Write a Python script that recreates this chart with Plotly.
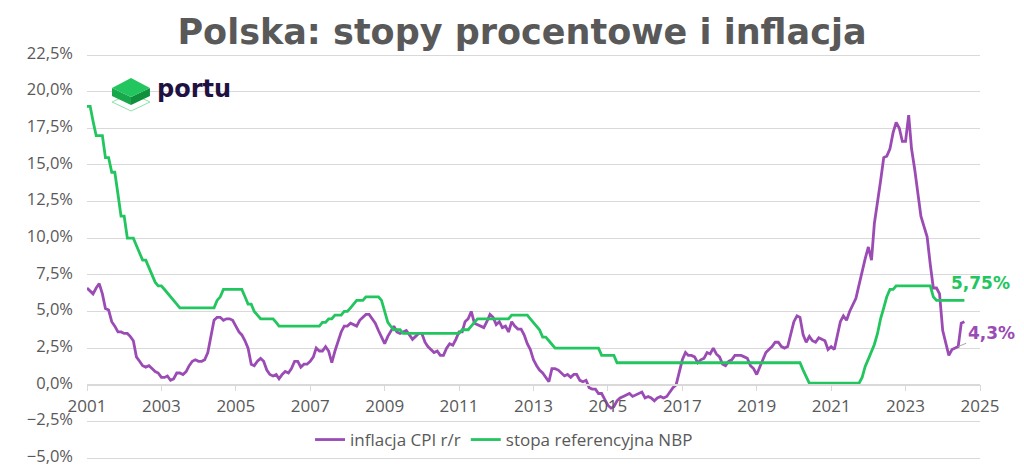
import pandas as pd
import plotly.graph_objects as go

# CPI r/r, monthly, Jan 2001 - Aug 2024
cpi = [
    6.6, 6.4, 6.2, 6.6, 6.9, 6.2, 5.2, 5.1, 4.3, 4.0, 3.6, 3.6,   # 2001
    3.5, 3.5, 3.3, 3.0, 1.9, 1.6, 1.3, 1.2, 1.3, 1.1, 0.9, 0.8,   # 2002
    0.5, 0.5, 0.6, 0.3, 0.4, 0.8, 0.8, 0.7, 0.9, 1.3, 1.6, 1.7,   # 2003
    1.6, 1.6, 1.7, 2.2, 3.4, 4.4, 4.6, 4.6, 4.4, 4.5, 4.5, 4.4,   # 2004
    4.0, 3.6, 3.4, 3.0, 2.5, 1.4, 1.3, 1.6, 1.8, 1.6, 1.0, 0.7,   # 2005
    0.6, 0.7, 0.4, 0.7, 0.9, 0.8, 1.1, 1.6, 1.6, 1.2, 1.4, 1.4,   # 2006
    1.6, 1.9, 2.5, 2.3, 2.3, 2.6, 2.3, 1.5, 2.3, 3.0, 3.6, 4.0,   # 2007
    4.0, 4.2, 4.1, 4.0, 4.4, 4.6, 4.8, 4.8, 4.5, 4.2, 3.7, 3.3,   # 2008
    2.8, 3.3, 3.6, 4.0, 3.6, 3.5, 3.6, 3.7, 3.4, 3.1, 3.3, 3.5,   # 2009
    3.5, 2.9, 2.6, 2.4, 2.2, 2.3, 2.0, 2.0, 2.5, 2.8, 2.7, 3.1,   # 2010
    3.6, 3.6, 4.3, 4.5, 5.0, 4.2, 4.1, 4.0, 3.9, 4.3, 4.8, 4.6,   # 2011
    4.1, 4.3, 3.9, 4.0, 3.6, 4.3, 4.0, 3.8, 3.8, 3.4, 2.8, 2.4,   # 2012
    1.7, 1.3, 1.0, 0.8, 0.5, 0.2, 1.1, 1.1, 1.0, 0.8, 0.6, 0.7,   # 2013
    0.5, 0.7, 0.7, 0.3, 0.2, 0.3, -0.2, -0.3, -0.3, -0.6, -0.6, -1.0,   # 2014
    -1.4, -1.6, -1.5, -1.1, -0.9, -0.8, -0.7, -0.6, -0.8, -0.7, -0.6, -0.5,   # 2015
    -0.9, -0.8, -0.9, -1.1, -0.9, -0.8, -0.9, -0.8, -0.5, -0.2, 0.0, 0.8,   # 2016
    1.7, 2.2, 2.0, 2.0, 1.9, 1.5, 1.7, 1.8, 2.2, 2.1, 2.5, 2.1,   # 2017
    1.9, 1.4, 1.3, 1.6, 1.7, 2.0, 2.0, 2.0, 1.9, 1.8, 1.3, 1.1,   # 2018
    0.7, 1.2, 1.7, 2.2, 2.4, 2.6, 2.9, 2.9, 2.6, 2.5, 2.6, 3.4,   # 2019
    4.3, 4.7, 4.6, 3.4, 2.9, 3.3, 3.0, 2.9, 3.2, 3.1, 3.0, 2.4,   # 2020
    2.6, 2.4, 3.2, 4.3, 4.7, 4.4, 5.0, 5.5, 5.9, 6.8, 7.8, 8.6,   # 2021
    9.4, 8.5, 11.0, 12.4, 13.9, 15.5, 15.6, 16.1, 17.2, 17.9, 17.5, 16.6,   # 2022
    16.6, 18.4, 16.1, 14.7, 13.0, 11.5, 10.8, 10.1, 8.2, 6.6, 6.6, 6.2,   # 2023
    3.7, 2.8, 2.0, 2.4, 2.5, 2.6, 4.2, 4.3,   # 2024
]

# stopa referencyjna NBP, monthly, Jan 2001 - Aug 2024
nbp = [
    19, 19, 18, 17, 17, 17, 15.5, 15.5, 14.5, 14.5, 13, 11.5,   # 2001
    11.5, 10, 10, 10, 9.5, 9, 8.5, 8.5, 8, 7.5, 7, 6.75,   # 2002
    6.75, 6.5, 6.25, 6, 5.75, 5.5, 5.25, 5.25, 5.25, 5.25, 5.25, 5.25,   # 2003
    5.25, 5.25, 5.25, 5.25, 5.25, 5.25, 5.75, 6.0, 6.5, 6.5, 6.5, 6.5,   # 2004
    6.5, 6.5, 6.5, 6.0, 5.5, 5.5, 5.0, 4.75, 4.5, 4.5, 4.5, 4.5,   # 2005
    4.5, 4.25, 4, 4, 4, 4, 4, 4, 4, 4, 4, 4,   # 2006
    4, 4, 4, 4, 4.25, 4.25, 4.5, 4.5, 4.75, 4.75, 4.75, 5.0,   # 2007
    5.0, 5.25, 5.5, 5.75, 5.75, 5.75, 6, 6, 6, 6, 6, 5.75,   # 2008
    5.0, 4.25, 4.0, 3.75, 3.75, 3.75, 3.5, 3.5, 3.5, 3.5, 3.5, 3.5,   # 2009
    3.5, 3.5, 3.5, 3.5, 3.5, 3.5, 3.5, 3.5, 3.5, 3.5, 3.5, 3.5,   # 2010
    3.5, 3.75, 3.75, 3.75, 4.0, 4.25, 4.5, 4.5, 4.5, 4.5, 4.5, 4.5,   # 2011
    4.5, 4.5, 4.5, 4.5, 4.5, 4.75, 4.75, 4.75, 4.75, 4.75, 4.75, 4.5,   # 2012
    4.25, 4.0, 3.75, 3.25, 3.25, 3.0, 2.75, 2.5, 2.5, 2.5, 2.5, 2.5,   # 2013
    2.5, 2.5, 2.5, 2.5, 2.5, 2.5, 2.5, 2.5, 2.5, 2.5, 2.0, 2.0,   # 2014
    2.0, 2.0, 2.0, 1.5, 1.5, 1.5, 1.5, 1.5, 1.5, 1.5, 1.5, 1.5,   # 2015
    1.5, 1.5, 1.5, 1.5, 1.5, 1.5, 1.5, 1.5, 1.5, 1.5, 1.5, 1.5,   # 2016
    1.5, 1.5, 1.5, 1.5, 1.5, 1.5, 1.5, 1.5, 1.5, 1.5, 1.5, 1.5,   # 2017
    1.5, 1.5, 1.5, 1.5, 1.5, 1.5, 1.5, 1.5, 1.5, 1.5, 1.5, 1.5,   # 2018
    1.5, 1.5, 1.5, 1.5, 1.5, 1.5, 1.5, 1.5, 1.5, 1.5, 1.5, 1.5,   # 2019
    1.5, 1.5, 1.5, 1.0, 0.5, 0.1, 0.1, 0.1, 0.1, 0.1, 0.1, 0.1,   # 2020
    0.1, 0.1, 0.1, 0.1, 0.1, 0.1, 0.1, 0.1, 0.1, 0.1, 0.5, 1.25,   # 2021
    1.75, 2.25, 2.75, 3.5, 4.5, 5.25, 6.0, 6.5, 6.5, 6.75, 6.75, 6.75,   # 2022
    6.75, 6.75, 6.75, 6.75, 6.75, 6.75, 6.75, 6.75, 6.75, 6.0, 5.75, 5.75,   # 2023
    5.75, 5.75, 5.75, 5.75, 5.75, 5.75, 5.75, 5.75,   # 2024
]

months = pd.date_range("2001-01-01", periods=len(cpi), freq="MS")

PURPLE = "#9b4bb4"
GREEN = "#22c55e"
GREY = "#595959"
GRID = "#d9d9d9"

# figure sits in the page with the default 8px body margin
W, H = 1008, 459
# plot area in page pixels: x 87..980, y 55..458 (2px extra padding top/bottom so edge gridlines draw)
PAD = 2
L, R, T, B = 79, 36, 47 - PAD, 9 - PAD
pw, ph = W - L - R, H - T - B
ymin, ymax = -5.0, 22.5
unit = (ph - 2 * PAD) / (ymax - ymin)
yr = [ymin - PAD / unit, ymax + PAD / unit]


def pp(x, y):
    # page pixel -> paper fraction of the plot area
    return (x - 8 - L) / pw, (8 + H - B - y) / ph


def path(pts):
    s = ""
    for i, (x, y) in enumerate(pts):
        a, b = pp(x, y)
        s += ("M" if i == 0 else "L") + f"{a:.4f},{b:.4f} "
    return s + "Z"


fig = go.Figure()
fig.add_trace(go.Scatter(x=months, y=cpi, name="inflacja CPI r/r", mode="lines",
                         line=dict(color=PURPLE, width=2.8)))
fig.add_trace(go.Scatter(x=months, y=nbp, name="stopa referencyjna NBP", mode="lines",
                         line=dict(color=GREEN, width=2.8)))

# end labels
fig.add_annotation(x=months[-1], y=nbp[-1], text=f"<b>{nbp[-1]:.2f}%</b>".replace(".", ","),
                   showarrow=False, xanchor="center", xshift=16, yshift=17,
                   font=dict(size=17, color=GREEN, family="DejaVu Sans"))
fig.add_annotation(x=months[-3], y=cpi[-3], text=f"<b>{cpi[-1]:.1f}%</b>".replace(".", ","),
                   showarrow=True, arrowhead=0, arrowwidth=1, arrowcolor="#a6a6a6",
                   ax=33, ay=-14, xanchor="center",
                   font=dict(size=17, color=PURPLE, family="DejaVu Sans"))

# portu logo
shapes = [
    dict(type="path", xref="paper", yref="paper",
         path=path([(112, 102), (131, 93), (150, 102), (131, 111)]),
         line=dict(color="#8be3aa", width=1), fillcolor="rgba(0,0,0,0)"),
    dict(type="path", xref="paper", yref="paper",
         path=path([(112, 88), (131, 97), (131, 105), (112, 96)]),
         line=dict(width=0), fillcolor="#17a84b"),
    dict(type="path", xref="paper", yref="paper",
         path=path([(131, 97), (150, 88), (150, 96), (131, 105)]),
         line=dict(width=0), fillcolor="#10903d"),
    dict(type="path", xref="paper", yref="paper",
         path=path([(112, 88), (131, 78), (150, 88), (131, 97)]),
         line=dict(width=0), fillcolor="#22c55e"),
]
lx, ly = pp(155, 89)
fig.add_annotation(x=lx, y=ly, xref="paper", yref="paper", text="<b>portu</b>",
                   showarrow=False, xanchor="left", yanchor="middle",
                   font=dict(size=24, color="#1f1242", family="DejaVu Sans"))

fig.update_layout(
    width=W, height=H,
    margin=dict(l=L, r=R, t=T, b=B, autoexpand=False),
    paper_bgcolor="white", plot_bgcolor="white",
    separators=", ",
    shapes=shapes,
    title=dict(text="<b>Polska: stopy procentowe i inflacja</b>", x=514 / W, xanchor="center",
               y=1 - 24 / H, yanchor="middle",
               font=dict(size=35, color=GREY, family="DejaVu Sans")),
    font=dict(family="Open Sans", color=GREY, size=17),
    showlegend=True,
    legend=dict(orientation="h", x=0.467, xanchor="center", y=pp(0, 440)[1], yanchor="middle",
                bgcolor="rgba(0,0,0,0)", font=dict(size=17, color=GREY),
                itemwidth=30, tracegroupgap=0),
)
# note: on this axis a positive ticklabelshift moves labels down, so use a negative one
fig.update_yaxes(range=yr, tick0=0, dtick=2.5, tickformat=".1f", ticksuffix="%",
                 showgrid=True, gridcolor=GRID, gridwidth=1.3, zeroline=False,
                 showline=False, ticks="", ticklabelstandoff=13, ticklabeloverflow="allow",
                 ticklabelshift=-2, automargin=False, tickfont=dict(size=16.5, color=GREY))
fig.update_xaxes(range=["2001-01-01", "2025-01-01"], tick0="2001-01-01", dtick="M24",
                 tickformat="%Y", showgrid=False, showline=True, linecolor=GRID,
                 linewidth=1.5, ticks="outside", ticklen=6, tickcolor=GRID,
                 anchor="free", position=(0 - yr[0]) / (yr[1] - yr[0]),
                 automargin=False, tickfont=dict(size=17, color=GREY))

fig.write_html("out.html")
